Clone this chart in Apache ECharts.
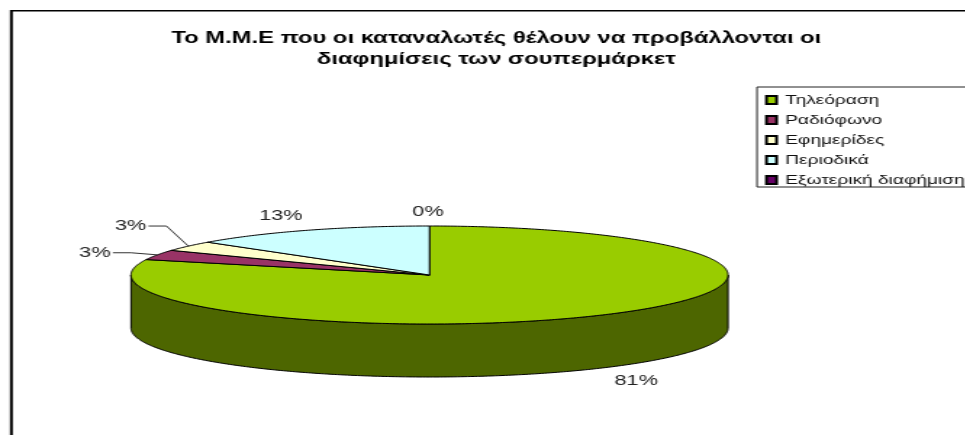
<!DOCTYPE html>
<html><head><meta charset="utf-8">
<style>html,body{margin:0;padding:0;background:#fff;overflow:hidden;width:965px;height:435px}
#c{width:666px;height:435px;transform-origin:0 0;transform:scaleX(1.45)}</style>
<script src="https://cdn.jsdelivr.net/npm/echarts@6/dist/echarts.min.js"></script>
</head><body><div id="c"></div>
<script>
var categories = ['Τηλεόραση','Ραδιόφωνο','Εφημερίδες','Περιοδικά','Εξωτερική διαφήμιση'];
var values = [80.5, 3.3, 3.3, 13.4, 0];
var topColors = ['#99CC00','#993366','#FFFFCC','#CCFFFF','#660066'];
var wallColors = ['#4D6600','#4D1A33','#808066','#668080','#330033'];
var titleLines = ['Το Μ.Μ.Ε που οι καταναλωτές θέλουν να προβάλλονται οι','διαφημίσεις των σουπερμάρκετ'];

// The whole canvas is stretched horizontally by SX, as the reference image is.
var SX = 1.45;
var FONT = '"Liberation Sans", Arial, sans-serif';
var PIE = {cx:429.5/SX, cy:275, rx:298.5/SX, ry:49, depth:53};
var LABEL_OFFSET = [[32,13],[-62.5,-2.1],[-57.8,-20.1],[-27.3,-14.2],[-1.5,-14]];
var LEADER = [false,true,true,false,false];
var total = values.reduce(function(a,b){return a+b;},0);

function rim(deg,dy){
  var t = deg*Math.PI/180;
  return [PIE.cx+PIE.rx*Math.sin(t), PIE.cy-PIE.ry*Math.cos(t)+(dy||0)];
}
function arc(a,b,dy){
  var n=Math.max(2,Math.ceil(Math.abs(b-a)*1.5)), p=[];
  for(var i=0;i<=n;i++){p.push(rim(a+(b-a)*i/n,dy));}
  return p;
}
function startAngle(i){
  var s=0; for(var k=0;k<i;k++){s+=values[k];}
  return s/total*360;
}
function makeRender(i){
  return function(params,api){
    var a=startAngle(i), b=a+api.value(0)/total*360, kids=[];
    var lineStyle={stroke:'#000',lineWidth:1};
    var wa=Math.max(a,90), wb=Math.min(b,270);
    if(b>a && wb>wa){
      kids.push({type:'polygon',shape:{points:arc(wa,wb,0).concat(arc(wb,wa,PIE.depth))},
        style:Object.assign({fill:wallColors[i]},lineStyle)});
    }
    if(b>a){
      kids.push({type:'polygon',shape:{points:[[PIE.cx,PIE.cy]].concat(arc(a,b,0))},
        style:Object.assign({fill:topColors[i]},lineStyle)});
    }
    var m=rim((a+b)/2,0), off=LABEL_OFFSET[i], tx=m[0]+off[0]/SX, ty=m[1]+off[1];
    if(i===0){ty+=PIE.depth;}
    if(LEADER[i]){
      kids.push({type:'polyline',shape:{points:[[tx+18/SX,ty],[tx+36/SX,ty],m]},
        style:{fill:'none',stroke:'#333',lineWidth:1}});
    }
    kids.push({type:'text',x:tx,y:ty,style:{text:Math.round(api.value(0))+'%',
      x:0,y:0,align:'center',verticalAlign:'middle',fill:'#222',font:'15px '+FONT}});
    return {type:'group',children:kids};
  };
}
var series = categories.map(function(name,i){
  return {type:'custom',name:name,coordinateSystem:'none',silent:true,animation:false,
    itemStyle:{color:topColors[i],borderColor:'#000',borderWidth:1},
    renderItem:makeRender(i),data:[[values[i]]],z:2};
});
var chart = echarts.init(document.getElementById('c'),null,{renderer:'canvas',width:666,height:435});
chart.setOption({
  animation:false,
  backgroundColor:'#fff',
  title:{text:titleLines.join('\n'),left:489/SX,top:23,textAlign:'center',
    textStyle:{fontFamily:FONT,fontSize:16.4,fontWeight:'bold',color:'#000',lineHeight:21}},
  legend:{orient:'vertical',left:757/SX,top:87,data:categories,icon:'rect',selectedMode:false,
    itemWidth:7,itemHeight:8,itemGap:6,padding:[6,12,0,5.5],borderColor:'#222',borderWidth:1,
    textStyle:{fontFamily:FONT,fontSize:13.2,color:'#111',lineHeight:14,padding:[0,0,0,1]}},
  graphic:[
    {type:'line',z:0,silent:true,shape:{x1:7.8,y1:10,x2:7.8,y2:435},style:{stroke:'#000',lineWidth:2}},
    {type:'line',z:0,silent:true,shape:{x1:7,y1:10.75,x2:666,y2:10.75},style:{stroke:'#000',lineWidth:1.5}}
  ],
  series:series
});
</script></body></html>
